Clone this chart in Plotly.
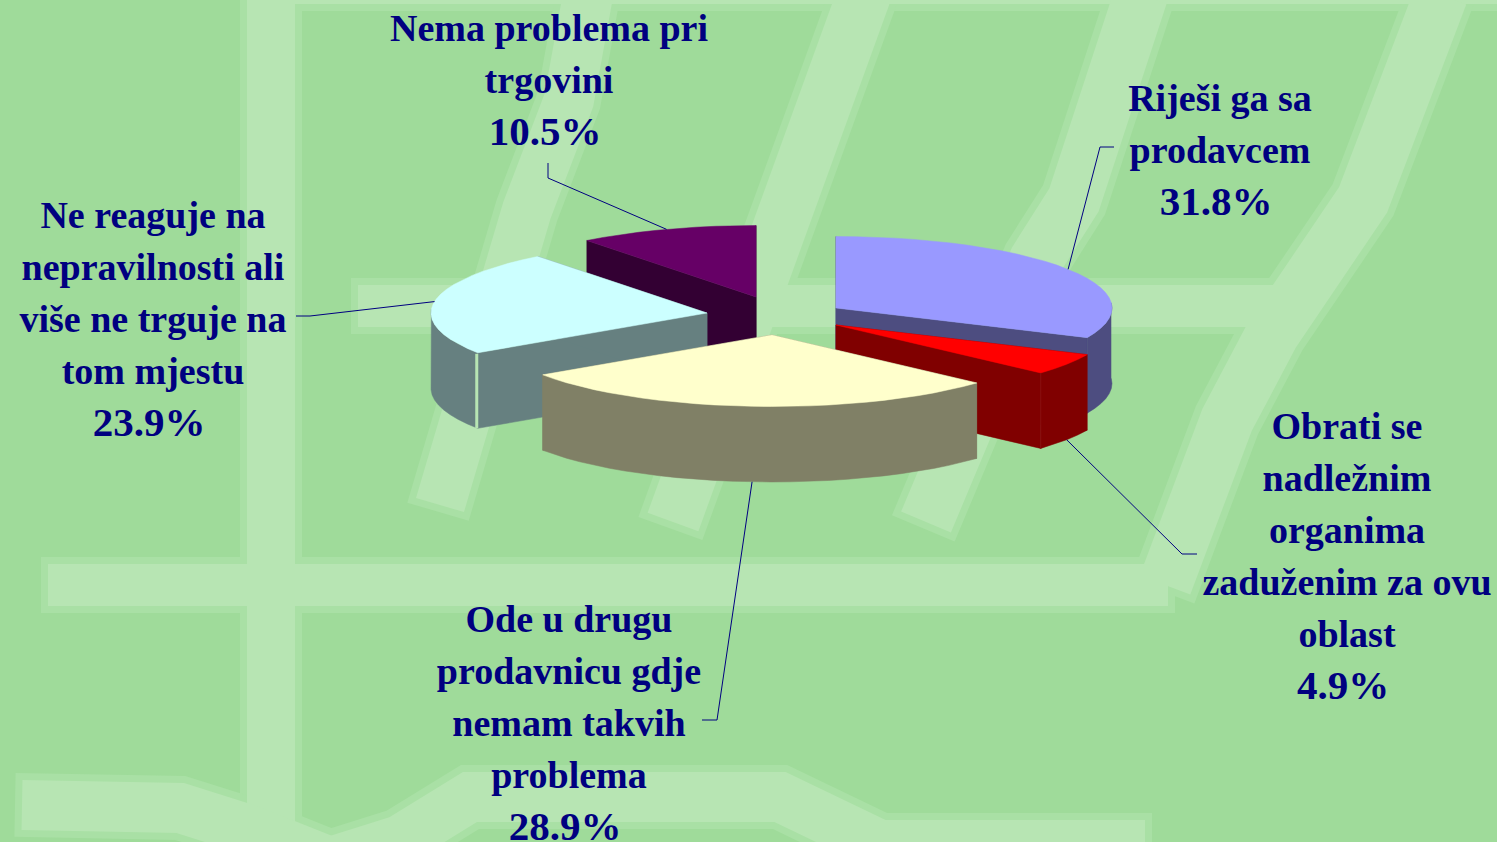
import math
import plotly.graph_objects as go

# ---- data ----
values = [31.8, 4.9, 28.9, 23.9, 10.5]
label_lines = [
    ["Riješi ga sa", "prodavcem"],
    ["Obrati se", "nadležnim", "organima", "zaduženim za ovu", "oblast"],
    ["Ode u drugu", "prodavnicu gdje", "nemam takvih", "problema"],
    ["Ne reaguje na", "nepravilnosti ali", "više ne trguje na", "tom mjestu"],
    ["Nema problema pri", "trgovini"],
]
top_colors = ["#9999FF", "#FF0000", "#FFFFCC", "#CCFFFF", "#660066"]
wall_colors = ["#4D4D80", "#800000", "#808066", "#668080", "#330033"]

# ---- layout of the exploded 3-D pie ----
apex = [(836, 308), (836, 325), (772, 335), (707, 313), (756, 297)]
RX, RY, DEPTH = 276, 71.5, 75.5
draw_order = [4, 3, 0, 1, 2]
label_pos = [(1220, 101), (1347, 429), (569, 622), (153, 218), (549, 31)]
PITCH = 52
PCT_SHIFT = -4
# leader: slice index -> (elbow, label end, rim on the lower edge?)
leaders = {
    0: ((1100, 147), (1114, 147), False),
    1: ((1182, 554), (1197, 554), True),
    2: ((717, 720), (702, 720), True),
    3: ((310, 316), (296, 316), False),
    4: ((548, 178), (548, 163), False),
}
NAVY = "#000080"
BG = "#9FDB9A"
STROKE = "#B7E5B3"
HALO = "#A9E0A5"

# background texture strokes
strokes = [
    ([271, 271], [-10, 852], 48),
    ([271, 1507], [0, 0], 8),
    ([588, 569, 527, 440], [-5, 100, 210, 505], 50),
    ([864, 789, 774, 673], [-5, 197, 270, 522], 54),
    ([1141, 1074, 1036, 926], [-5, 200, 260, 522], 54),
    ([1441, 1363, 1273, 1227, 1165], [-5, 200, 333, 420, 585], 54),
    ([48, 1168], [585, 585], 42),
    ([358, 1290], [306, 306], 42),
    ([22, 180, 250, 330, 400, 470, 780, 880, 1145], [805, 808, 830, 862, 840, 797, 797, 845, 845], 50),
]

fig = go.Figure()


def add_poly(xs, ys, color):
    fig.add_trace(go.Scatter(x=xs, y=ys, mode="lines", fill="toself", fillcolor=color,
                             line=dict(color=color, width=0.5), hoverinfo="skip", showlegend=False))


def add_line(xs, ys, color, width):
    fig.add_trace(go.Scatter(x=xs, y=ys, mode="lines", line=dict(color=color, width=width),
                             hoverinfo="skip", showlegend=False))


def extended(xs, ys, d):
    """Lengthen both ends of a path by d, so the soft halo wraps the stroke ends."""
    xs, ys = list(xs), list(ys)
    for a, b in ((0, 1), (-1, -2)):
        dx, dy = xs[a] - xs[b], ys[a] - ys[b]
        length = math.hypot(dx, dy)
        xs[a] += dx / length * d
        ys[a] += dy / length * d
    return xs, ys


for sx, sy, w in strokes:
    hx, hy = extended(sx, sy, 7)
    add_line(hx, hy, HALO, w + 14)
for sx, sy, w in strokes:
    add_line(sx, sy, STROKE, w)

total = sum(values)
angles = [0.0]
for v in values:
    angles.append(angles[-1] + v / total * 360)


def rim(i, deg):
    a = math.radians(deg)
    return apex[i][0] + RX * math.sin(a), apex[i][1] - RY * math.cos(a)


for i in draw_order:
    a0, a1 = angles[i], angles[i + 1]
    ax, ay = apex[i]
    n = max(2, int((a1 - a0) / 4))
    arc = [rim(i, a0 + (a1 - a0) * k / n) for k in range(n + 1)]
    for p in (arc[0], arc[-1]):
        add_poly([ax, p[0], p[0], ax, ax],
                 [ay, p[1], p[1] + DEPTH, ay + DEPTH, ay], wall_colors[i])
    front = [p for k, p in enumerate(arc) if 85 <= a0 + (a1 - a0) * k / n <= 275]
    if len(front) > 1:
        add_poly([p[0] for p in front] + [p[0] for p in reversed(front)],
                 [p[1] for p in front] + [p[1] + DEPTH for p in reversed(front)], wall_colors[i])
    add_poly([ax] + [p[0] for p in arc] + [ax], [ay] + [p[1] for p in arc] + [ay], top_colors[i])
    if i == 3:  # thin seam on the cyan slice
        add_line([arc[0][0] - 1, arc[0][0] - 1], [arc[0][1] + 1, arc[0][1] + DEPTH], STROKE, 3)
    if i == 1:
        add_line([arc[-1][0], arc[-1][0]], [arc[-1][1], arc[-1][1] + DEPTH], "#8A1010", 1)

for i, (elbow, end, lower) in leaders.items():
    mx, my = rim(i, (angles[i] + angles[i + 1]) / 2)
    if lower:
        my += DEPTH
    add_line([mx, elbow[0], end[0]], [my, elbow[1], end[1]], NAVY, 1)

for i, lines in enumerate(label_lines):
    texts = lines + [f"{values[i]:.1f}%"]
    x0, y0 = label_pos[i]
    sizes = [38] * len(lines) + [41]
    xs = [x0] * len(lines) + [x0 + PCT_SHIFT]
    fig.add_trace(go.Scatter(
        x=xs, y=[y0 + k * PITCH for k in range(len(texts))],
        text=texts, mode="text", textposition="middle center",
        textfont=dict(family="Liberation Serif", size=sizes, color=NAVY, weight="bold"),
        hoverinfo="skip", showlegend=False, cliponaxis=False))

fig.update_layout(
    width=1497, height=842, margin=dict(l=0, r=0, t=0, b=0),
    paper_bgcolor=BG, plot_bgcolor=BG, showlegend=False,
    xaxis=dict(range=[0, 1497], visible=False, fixedrange=True),
    yaxis=dict(range=[842, 0], visible=False, fixedrange=True),
)
fig.write_html("out.html", config={"displayModeBar": False},
               post_script="document.body.style.margin='0';document.body.style.overflow='hidden';")
